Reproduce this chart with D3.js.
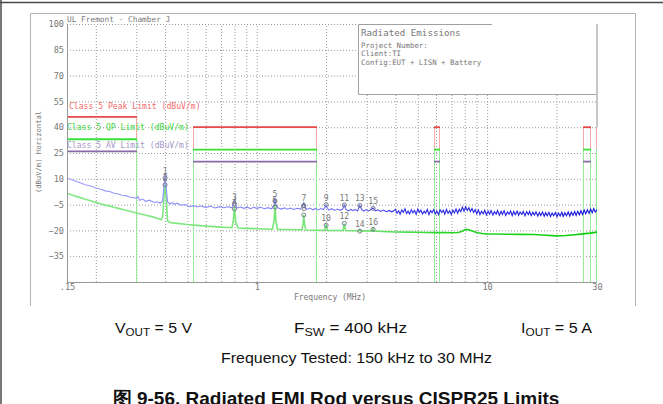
<!DOCTYPE html>
<html>
<head>
<meta charset="utf-8">
<script src="https://cdn.jsdelivr.net/npm/d3@7"></script>
<style>
  body { margin: 0; background: #fff; }
  .plot-text { font-family: "DejaVu Sans Mono", "Liberation Mono", monospace; fill: #777; }
  .caption { font-family: "Liberation Sans", Arial, sans-serif; fill: #111; }
</style>
</head>
<body>
<svg id="chart" width="663" height="404"></svg>
<script>
const Y_TICKS = [100, 85, 70, 55, 40, 25, 10, -5, -20, -35];
const X_TICK_FREQS = [0.15, 1, 10, 30];
const X_TICK_LABELS = ['.15', '1', '10', '30'];
const GRID_FREQS = [0.2, 0.3, 0.4, 0.5, 0.6, 0.7, 0.8, 0.9, 1, 2, 3, 4, 5, 6, 7, 8, 9, 10, 20];

// CISPR25 class 5 rod limits, dBuV/m
const BAND_START = [0.15, 0.53, 5.9, 26, 30];
const BAND_END = [0.3, 1.8, 6.2, 28, 30];
const PEAK_LIMIT = [46, 40, 40, 40, 40];
const QP_LIMIT = [33, 27, 27, 27, 27];
const AV_LIMIT = [26, 20, 20, 20, 20];
const LIMIT_NAMES = ['Class 5 Peak Limit (dBuV/m)', 'Class 5 QP Limit (dBuV/m)', 'Class 5 AV Limit (dBuV/m)'];

// peak scan (blue), [MHz, dBuV/m]
const peakScan = [
  [0.15, 10.5], [0.16, 9.0], [0.17, 7.8], [0.18, 6.5], [0.19, 5.8], [0.2, 4.6], [0.21, 3.9],
  [0.22, 3.0], [0.23, 2.6], [0.24, 1.6], [0.25, 1.2], [0.26, 0.4], [0.27, 0.2], [0.28, -0.6],
  [0.29, -0.9], [0.3, -1.4], [0.305, -0.3], [0.31, -2.5], [0.32, -1.8], [0.33, -3.2], [0.34, -2.4],
  [0.35, -3.0], [0.36, -3.8], [0.37, -3.4], [0.38, -4.2], [0.39, -3.0], [0.395, 5], [0.4, 12.5],
  [0.405, 4], [0.41, -3.5], [0.42, -4.5], [0.43, -3.8], [0.44, -4.8], [0.45, -4.2], [0.47, -5.4],
  [0.49, -5.0], [0.51, -6.2], [0.53, -5.6], [0.55, -6.4], [0.57, -5.8], [0.6, -6.6], [0.63, -6.0],
  [0.66, -7.0], [0.69, -6.2], [0.72, -6.8], [0.75, -6.3], [0.78, -6.9], [0.795, -3], [0.8, -2.5],
  [0.805, -4], [0.82, -7.0], [0.85, -6.4], [0.88, -7.2], [0.91, -6.5], [0.94, -7.4], [0.97, -6.6],
  [1.0, -7.2], [1.04, -6.6], [1.08, -7.4], [1.12, -6.8], [1.16, -7.5], [1.19, -5], [1.2, -1.0],
  [1.21, -5], [1.24, -7.0], [1.28, -7.6], [1.32, -6.9], [1.36, -7.7], [1.4, -7.0], [1.45, -7.8],
  [1.5, -7.1], [1.55, -7.6], [1.59, -5], [1.6, -3.5], [1.61, -5.5], [1.65, -7.8], [1.7, -7.0],
  [1.75, -8.0], [1.8, -7.2], [1.85, -8.1], [1.9, -7.3], [1.95, -7.9], [1.99, -6], [2.0, -5],
  [2.01, -6.5], [2.06, -8.2], [2.12, -7.4], [2.18, -8.4], [2.24, -7.6], [2.3, -8.3], [2.36, -7.6],
  [2.4, -5.2], [2.44, -7.8], [2.5, -8.6], [2.56, -7.8], [2.62, -8.5], [2.68, -7.9], [2.74, -8.7],
  [2.8, -5.5], [2.86, -8.0], [2.92, -8.8], [2.98, -7.9], [3.05, -8.7], [3.12, -8.0], [3.2, -7.0],
  [3.28, -8.6], [3.36, -8.0], [3.45, -9.0], [3.55, -8.2], [3.65, -9.1], [3.75, -8.4], [3.85, -9.2],
  [3.95, -8.5],
  [4.0, -7.7], [4.06, -10.1], [4.13, -8.6], [4.19, -10.6], [4.26, -8.1], [4.33, -9.5], [4.4, -7.4],
  [4.47, -10.2], [4.54, -8.8], [4.61, -10.4], [4.69, -7.9], [4.76, -9.8], [4.84, -8.4], [4.92, -10.7],
  [5.0, -7.6], [5.08, -9.5], [5.16, -8.2], [5.24, -10.5], [5.33, -8.9], [5.41, -10.0], [5.5, -7.8],
  [5.59, -10.8], [5.68, -8.5], [5.77, -9.7], [5.86, -7.9], [5.96, -10.4], [6.05, -8.7], [6.15, -10.9],
  [6.25, -8.0], [6.35, -9.6], [6.45, -8.3], [6.55, -10.6], [6.66, -7.8], [6.77, -10.1], [6.88, -8.6],
  [6.99, -10.7], [7.1, -8.2], [7.21, -9.9], [7.33, -7.6], [7.45, -10.0], [7.57, -7.7], [7.69, -9.2],
  [7.81, -6.5], [7.94, -8.9], [8.07, -6.3], [8.2, -8.4], [8.33, -6.8], [8.46, -9.0], [8.6, -7.3],
  [8.74, -9.6], [8.88, -7.9], [9.02, -10.3], [9.17, -8.2], [9.31, -10.8], [9.46, -8.9], [9.62, -10.4],
  [9.77, -8.3], [9.93, -11.0], [10.1, -8.8], [10.25, -10.6], [10.4, -8.4], [10.6, -11.1], [10.75, -9.1],
  [10.95, -10.5], [11.1, -8.5], [11.3, -11.2], [11.5, -8.9], [11.65, -10.7], [11.85, -8.6], [12.05, -11.3],
  [12.25, -9.2], [12.45, -10.6], [12.65, -8.7], [12.85, -11.4], [13.05, -9.0], [13.25, -10.9], [13.5, -8.8],
  [13.7, -11.2], [13.9, -9.3], [14.15, -10.7], [14.35, -8.9], [14.6, -11.5], [14.85, -9.1], [15.1, -10.8],
  [15.3, -9.0], [15.55, -11.4], [15.8, -9.4], [16.05, -11.1], [16.3, -9.2], [16.6, -11.7], [16.85, -9.6],
  [17.1, -11.3], [17.4, -9.3], [17.7, -11.8], [17.95, -9.7], [18.25, -11.5], [18.55, -9.5], [18.85, -11.9],
  [19.15, -9.8], [19.45, -11.4], [19.8, -9.6], [20.1, -12.0], [20.4, -9.9], [20.75, -11.6], [21.1, -9.5],
  [21.4, -11.9], [21.75, -9.8], [22.1, -11.5], [22.5, -9.3], [22.85, -11.7], [23.2, -9.4], [23.6, -11.2],
  [24.0, -9.0], [24.35, -11.3], [24.75, -8.9], [25.15, -10.9], [25.55, -8.6], [25.95, -10.8], [26.4, -8.2],
  [26.8, -10.4], [27.25, -8.0], [27.7, -10.1], [28.15, -7.6], [28.6, -9.8], [29.05, -7.3], [29.5, -9.4],
  [30.0, -7.8]
];

// average scan (green)
const avgScan = [
  [0.15, 1.6], [0.16, 0.3], [0.17, -0.8], [0.18, -1.9], [0.19, -2.8], [0.2, -3.7], [0.21, -4.5],
  [0.22, -5.3], [0.23, -5.9], [0.24, -6.6], [0.25, -7.2], [0.27, -8.3], [0.29, -9.3], [0.31, -10.3],
  [0.33, -11.2], [0.35, -12.0], [0.37, -12.9], [0.385, -13.8], [0.39, -12], [0.395, -2], [0.4, 7],
  [0.405, -2], [0.41, -14.5], [0.42, -15.4], [0.45, -15.9], [0.5, -16.6], [0.55, -17.1], [0.6, -17.5],
  [0.65, -17.8], [0.7, -18.1], [0.75, -18.3], [0.78, -18.4], [0.79, -15], [0.8, -6], [0.81, -15],
  [0.83, -18.6], [0.9, -18.8], [1.0, -19.0], [1.1, -19.2], [1.17, -19.3], [1.19, -14], [1.2, -5],
  [1.21, -14], [1.23, -19.4], [1.35, -19.5], [1.5, -19.6], [1.57, -19.7], [1.59, -16], [1.6, -11],
  [1.61, -16], [1.63, -19.8], [1.8, -19.9], [1.97, -20.0], [2.0, -17], [2.03, -20.0], [2.2, -20.1],
  [2.37, -20.1], [2.4, -16], [2.43, -20.1], [2.6, -20.2], [2.78, -20.2], [2.8, -19.5], [2.82, -20.3],
  [3.0, -20.3], [3.17, -20.3], [3.2, -19.0], [3.23, -20.4], [3.5, -20.6], [4.0, -20.9], [4.5, -21.0],
  [5.0, -21.1], [5.5, -21.2], [6.0, -21.3], [6.5, -21.3], [7.0, -21.4], [7.5, -21.2], [7.8, -20.5],
  [8.0, -19.6], [8.2, -19.4], [8.5, -20.0], [9.0, -21.2], [9.5, -21.8], [10, -22.0], [11, -22.1],
  [12, -22.2], [14, -22.3], [16, -22.4], [18, -22.8], [20, -23.2], [22, -23.0], [24, -22.5],
  [26, -22.0], [28, -21.6], [30, -21.0]
];

const MARKER_FREQS = [0.4, 0.4, 0.8, 0.8, 1.2, 1.2, 1.6, 1.6, 2.0, 2.0, 2.4, 2.4, 2.8, 2.8, 3.2, 3.2];
const MARKER_LEVELS = [10.5, 6.5, -4.5, -7.5, -3.0, -6.5, -5.5, -11.0, -5.0, -17.0, -5.2, -15.9, -5.5, -20.5, -7.2, -19.4];

const INFO_LINES = ['Project Number:', 'Client:TI', 'Config:EUT + LISN + Battery'];

const PLOT = { left: 67, right: 597, top: 24, bottom: 282 };

const svg = d3.select('#chart');

const x = d3.scaleLog().domain([0.15, 30]).range([PLOT.left, PLOT.right]);
const y = d3.scaleLinear().domain([-50, 100]).range([PLOT.bottom, PLOT.top]);
const crisp = v => Math.round(v) + 0.5;

// page frame and panel
svg.append('line').attr('x1', 0).attr('x2', 663).attr('y1', 2.5).attr('y2', 2.5)
  .attr('stroke', '#4a4a4a').attr('stroke-width', 1.5);
svg.append('line').attr('x1', 1).attr('x2', 1).attr('y1', 0).attr('y2', 404)
  .attr('stroke', '#4a4a4a').attr('stroke-width', 1.5);
svg.append('path').attr('d', 'M30.5,306V13.5H635.5V306')
  .attr('fill', 'none').attr('stroke', '#b4b4b4');

// grid
svg.append('g')
  .attr('transform', `translate(${PLOT.left},0)`)
  .call(d3.axisLeft(y).tickValues(Y_TICKS).tickSize(-(PLOT.right - PLOT.left)).tickFormat(''))
  .call(g => g.select('.domain').remove())
  .call(g => g.selectAll('line').attr('stroke', '#9a9a9a').attr('stroke-dasharray', '1,2'));

svg.append('g')
  .attr('transform', `translate(0,${PLOT.bottom})`)
  .call(d3.axisBottom(x).tickValues(GRID_FREQS).tickSize(-(PLOT.bottom - PLOT.top)).tickFormat(''))
  .call(g => g.select('.domain').remove())
  .call(g => g.selectAll('line').attr('stroke', '#9a9a9a').attr('stroke-dasharray', '1,2'));

// info box (covers grid)
svg.append('rect').attr('x', 358).attr('y', PLOT.top).attr('width', PLOT.right - 358).attr('height', 70)
  .attr('fill', '#fff');
svg.append('path').attr('d', `M492,${PLOT.top + 0.5}H358.5V94.5H${PLOT.right}`)
  .attr('fill', 'none').attr('stroke', '#a0a0a0');
svg.append('text').attr('class', 'plot-text').attr('x', 361).attr('y', 36)
  .attr('font-size', 9.2).text('Radiated Emissions');
svg.append('g').selectAll('text').data(INFO_LINES).join('text')
  .attr('class', 'plot-text').attr('x', 361).attr('y', (d, i) => 48 + i * 8.3)
  .attr('font-size', 7.4).text(d => d);

// limits
const bands = BAND_START.map((s, i) => ({
  start: s, end: BAND_END[i], levels: [PEAK_LIMIT[i], QP_LIMIT[i], AV_LIMIT[i]]
}));
const HLINE_COLORS = ['#e84848', '#38e038', '#8a6aa8'];
const VLINE_COLORS = ['#f4aaaa', '#96ec96', '#c8bce0'];
const DRAW_ORDER = [2, 0, 1];

DRAW_ORDER.forEach(k => {
  svg.append('g').selectAll('line').data(bands.flatMap(b => [
    { f: b.start, v: b.levels[k] }, { f: b.end, v: b.levels[k] }
  ]).filter(d => d.f > 0.15)).join('line')
    .attr('x1', d => crisp(x(d.f)) - (d.f >= 30 ? 1 : 0)).attr('x2', d => crisp(x(d.f)) - (d.f >= 30 ? 1 : 0))
    .attr('y1', d => y(d.v)).attr('y2', y(-50))
    .attr('stroke', VLINE_COLORS[k]).attr('stroke-width', 1);
});
DRAW_ORDER.forEach(k => {
  svg.append('g').selectAll('line').data(bands.filter(b => b.end > b.start)).join('line')
    .attr('x1', d => crisp(x(d.start)) - 0.5).attr('x2', d => crisp(x(d.end)) + 0.5)
    .attr('y1', d => y(d.levels[k])).attr('y2', d => y(d.levels[k]))
    .attr('stroke', HLINE_COLORS[k]).attr('stroke-width', 1.8);
});

// legend labels
const LEGEND_COLORS = ['#f26a6a', '#3cd83c', '#a496c8'];
const LEGEND_Y = [109, 130, 148];
svg.append('g').selectAll('text').data(LIMIT_NAMES).join('text')
  .attr('class', 'plot-text').attr('x', (d, i) => i === 0 ? 69 : 67).attr('y', (d, i) => LEGEND_Y[i])
  .attr('font-size', 8.1).style('fill', (d, i) => LEGEND_COLORS[i]).text(d => d);

// traces
const defs = svg.append('defs');
function addGradient(id, stops) {
  const g = defs.append('linearGradient').attr('id', id)
    .attr('gradientUnits', 'userSpaceOnUse')
    .attr('x1', PLOT.left).attr('x2', PLOT.right).attr('y1', 0).attr('y2', 0);
  stops.forEach(([o, c]) => g.append('stop').attr('offset', o).attr('stop-color', c));
}
addGradient('blueGrad', [[0, '#9c9cff'], [0.5, '#7a7af8'], [0.62, '#3030e4'], [1, '#1212da']]);
addGradient('greenGrad', [[0, '#86e886'], [0.55, '#74e474'], [0.72, '#26d826'], [1, '#0ccc0c']]);

const line = d3.line().x(d => x(d[0])).y(d => y(d[1]));

svg.append('path').datum(avgScan)
  .attr('d', line).attr('fill', 'none')
  .attr('stroke', 'url(#greenGrad)').attr('stroke-width', 1.6);
svg.append('path').datum(peakScan)
  .attr('d', line).attr('fill', 'none')
  .attr('stroke', 'url(#blueGrad)').attr('stroke-width', 1.1);

// markers
const markers = MARKER_FREQS.map((f, i) => ({ f, v: MARKER_LEVELS[i], label: String(i + 1) }));
const mk = svg.append('g').selectAll('g').data(markers).join('g')
  .attr('transform', d => `translate(${x(d.f)},${y(d.v)})`);
mk.append('circle').attr('r', 2).attr('fill', 'none').attr('stroke', '#6c7088').attr('stroke-width', 0.9);
mk.append('text').attr('class', 'plot-text').attr('y', -4).attr('text-anchor', 'middle')
  .attr('font-size', 8).text(d => d.label);

// plot border
svg.append('line').attr('x1', PLOT.left + 0.5).attr('x2', PLOT.left + 0.5)
  .attr('y1', PLOT.top).attr('y2', PLOT.bottom).attr('stroke', '#999');
svg.append('line').attr('x1', PLOT.left).attr('x2', PLOT.right)
  .attr('y1', PLOT.bottom + 0.5).attr('y2', PLOT.bottom + 0.5).attr('stroke', '#999');
svg.append('line').attr('x1', PLOT.right).attr('x2', PLOT.right)
  .attr('y1', PLOT.top).attr('y2', y(40)).attr('stroke', '#c8c8c8').attr('stroke-width', 2);

// axes labels
svg.append('g')
  .attr('transform', `translate(${PLOT.left - 1},0)`)
  .call(d3.axisLeft(y).tickValues(Y_TICKS).tickSize(0).tickPadding(2))
  .call(g => g.select('.domain').remove())
  .call(g => g.selectAll('text').attr('class', 'plot-text').attr('font-size', 8.6)
    .style('font-family', null).attr('fill', null));

svg.append('g')
  .attr('transform', `translate(0,${PLOT.bottom})`)
  .call(d3.axisBottom(x).tickValues(X_TICK_FREQS).tickSize(0).tickPadding(2)
    .tickFormat((d, i) => X_TICK_LABELS[i]))
  .call(g => g.select('.domain').remove())
  .call(g => g.selectAll('text').attr('class', 'plot-text').attr('font-size', 8.6)
    .style('font-family', null).attr('fill', null));

svg.append('text').attr('class', 'plot-text').attr('x', 67).attr('y', 22)
  .attr('font-size', 7.8).text('UL Fremont - Chamber J');
svg.append('text').attr('class', 'plot-text').attr('x', 330).attr('y', 300)
  .attr('text-anchor', 'middle').attr('font-size', 8).text('Frequency (MHz)');
svg.append('text').attr('class', 'plot-text')
  .attr('transform', 'translate(41,152) rotate(-90)')
  .attr('text-anchor', 'middle').attr('font-size', 7.2).text('(dBuV/m) Horizontal');

// caption below the chart
function sub(x0, main, subText, rest, width) {
  const t = svg.append('text').attr('class', 'caption').attr('x', x0).attr('y', 333)
    .attr('font-size', 15).attr('textLength', width).attr('lengthAdjust', 'spacingAndGlyphs');
  t.append('tspan').text(main);
  t.append('tspan').attr('font-size', 11).attr('dy', 3).text(subText);
  t.append('tspan').attr('dy', -3).text(rest);
}
sub(115, 'V', 'OUT', ' = 5 V', 77);
sub(294, 'F', 'SW', ' = 400 kHz', 113);
sub(521, 'I', 'OUT', ' = 5 A', 71);

svg.append('text').attr('class', 'caption').attr('x', 221).attr('y', 363)
  .attr('font-size', 15).attr('textLength', 271).attr('lengthAdjust', 'spacingAndGlyphs')
  .text('Frequency Tested: 150 kHz to 30 MHz');

svg.append('text').attr('class', 'caption').attr('x', 336).attr('y', 405)
  .attr('text-anchor', 'middle').attr('font-size', 19).attr('font-weight', 'bold')
  .text('图 9-56. Radiated EMI Rod versus CISPR25 Limits');
</script>
</body>
</html>
